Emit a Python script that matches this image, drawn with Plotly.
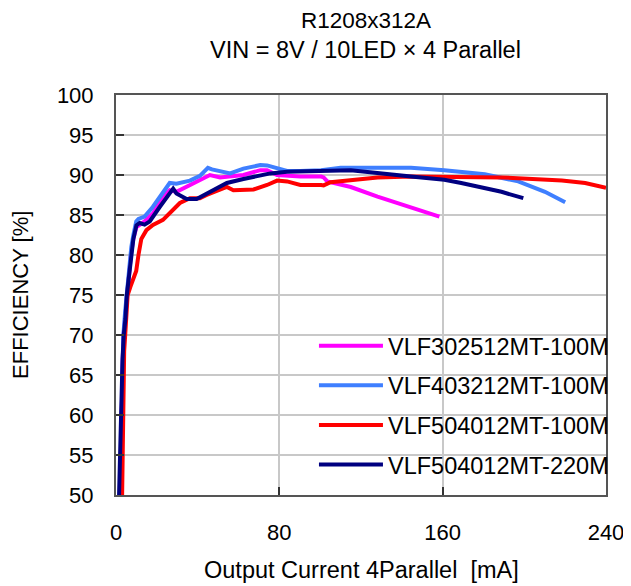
import plotly.graph_objects as go

names = ["VLF302512MT-100M", "VLF403212MT-100M", "VLF504012MT-100M", "VLF504012MT-220M"]
colors = ["#FF00FF", "#3F7FFF", "#FF0000", "#000080"]

# VLF302512MT-100M (magenta)
x_mag = [2.2, 2.7, 3.2, 3.7, 4.7, 5.5, 6.5, 7.3, 8.5, 10, 14, 18.1, 23, 26.3, 29.6, 36.2, 41.1, 46, 51,
         62.4, 70.7, 74, 78.9, 90.3, 100.5, 101.7, 103.5, 115, 128.1, 144.5, 158.4]
y_mag = [50, 60, 66, 70, 73, 75, 78, 80, 82, 83.5, 84.2, 85.2, 87.3, 88.1, 87.9, 88.75, 89.4, 90, 89.7,
         90, 90.6, 90.6, 90, 89.8, 89.8, 89.7, 89.2, 88.5, 87.3, 86, 84.8]

# VLF403212MT-100M (blue)
x_blu = [2.0, 2.5, 2.8, 3.2, 3.6, 4.5, 5.3, 6.0, 7.0, 7.5, 8.5, 9.9, 11, 14, 18, 22.9, 26.3, 29.6, 32,
         36.2, 41.1, 45, 47, 49.3, 52.4, 55.9, 62.4, 67.4, 70.7, 74, 78.9, 83.8, 90.3, 100.5, 110,
         144.5, 160.8, 169.1, 180.6, 197, 210.1, 220]
y_blu = [50, 58, 63, 66, 70, 73, 75, 77.5, 80, 81, 82.5, 84.2, 84.5, 84.8, 86, 87.9, 89, 88.9, 89,
         89.3, 89.9, 90.9, 90.7, 90.6, 90.4, 90.2, 90.8, 91.1, 91.25, 91.2, 90.8, 90.5, 90.5, 90.6, 90.9,
         90.9, 90.6, 90.4, 90.1, 89.2, 87.9, 86.6]

# VLF504012MT-100M (red)
x_red = [3.0, 3.2, 3.4, 3.6, 4.0, 4.5, 5.0, 5.7, 7.0, 8.3, 9.9, 11, 12.4, 14.9, 18.1, 23, 28, 31.3,
         36.2, 41.1, 44.4, 51, 54.3, 57.5, 67.4, 74, 78.9, 83.8, 90.3, 100.5, 101.7, 105.1, 128.1,
         144.5, 169.1, 188.8, 218.4, 229.8, 240]
y_red = [50, 55, 60, 65, 68, 70, 72, 75, 76, 77, 78, 80, 82, 83.1, 83.75, 84.4, 85.6, 86.5,
         87.1, 87.1, 87.5, 88.1, 88.5, 88.1, 88.2, 88.75, 89.3, 89.2, 88.75, 88.75, 88.7, 89.1, 89.7,
         89.8, 89.8, 89.7, 89.3, 89.0, 88.4]

# VLF504012MT-220M (navy)
x_nav = [1.5, 2.2, 2.7, 3.2, 3.8, 4.6, 5.3, 6.2, 7.2, 8.5, 10, 11.6, 14, 16.5, 21.4, 27.2, 28, 29.6,
         34.6, 39.5, 44.4, 46, 51, 54.3, 62.4, 72.3, 75.6, 83.8, 100.5, 115, 144.5, 160.8, 169.1,
         188.8, 199.5]
y_nav = [50, 58, 64, 67, 70, 72, 75, 77, 80, 82, 83.7, 84, 83.8, 84.2, 86, 88.2, 88.3, 87.7,
         87, 87, 87.7, 87.9, 88.5, 89, 89.5, 90, 90.2, 90.4, 90.5, 90.6, 89.8, 89.4, 89.0,
         87.9, 87.1]

series_x = [x_mag, x_blu, x_red, x_nav]
series_y = [y_mag, y_blu, y_red, y_nav]

x_ticks = [0, 80, 160, 240]
y_ticks = [50, 55, 60, 65, 70, 75, 80, 85, 90, 95, 100]

title_line1 = "R1208x312A"
title_line2 = "VIN = 8V / 10LED × 4 Parallel"
x_title = "Output Current 4Parallel  [mA]"
y_title = "EFFICIENCY [%]"

FONT = "Arial, Liberation Sans, sans-serif"

fig = go.Figure()
for i in range(4):
    fig.add_trace(go.Scatter(
        x=series_x[i], y=series_y[i], mode="lines", name=names[i],
        line=dict(color=colors[i], width=4), legendgroup=f"g{i}"))

# white area behind the legend (hides gridlines there, as in the reference)
fig.add_shape(type="rect", xref="paper", yref="paper", x0=0.365, x1=1.0, y0=0.0, y1=0.425,
              fillcolor="white", line=dict(width=0), layer="between")

# the page body adds an 8px margin, so the figure is 8px smaller than the window
fig.update_layout(
    width=623, height=578,
    margin=dict(l=108, r=25, t=87, b=91, autoexpand=False),
    paper_bgcolor="white", plot_bgcolor="white",
    font=dict(family=FONT, color="black"),
    showlegend=True,
    legend=dict(x=0.404, y=0.02, xanchor="left", yanchor="bottom",
                bgcolor="rgba(0,0,0,0)", borderwidth=0,
                font=dict(size=23.5, family=FONT),
                tracegroupgap=6, itemwidth=64,
                traceorder="grouped"),
    annotations=[
        dict(text=title_line1, xref="paper", yref="paper", x=0.51, y=1.1875,
             xanchor="center", yanchor="middle", showarrow=False, borderpad=0,
             font=dict(size=22.5, family=FONT)),
        dict(text=title_line2, xref="paper", yref="paper", x=0.51, y=1.1125,
             xanchor="center", yanchor="middle", showarrow=False, borderpad=0,
             font=dict(size=23.5, family=FONT)),
        dict(text=x_title, xref="paper", yref="paper", x=0.5, y=-0.1875,
             xanchor="center", yanchor="middle", showarrow=False,
             font=dict(size=23.5, family=FONT)),
        dict(text=y_title, xref="paper", yref="paper", x=-0.196, y=0.5,
             xanchor="center", yanchor="middle", showarrow=False, textangle=-90,
             font=dict(size=22, family=FONT)),
    ],
)

fig.update_xaxes(
    range=[0, 240], tickvals=x_ticks, ticktext=[str(v) for v in x_ticks],
    showgrid=True, gridcolor="#C8C8C8", gridwidth=1.5,
    showline=True, linecolor="#555555", linewidth=2, mirror=True,
    ticks="inside", ticklen=8, tickwidth=2, tickcolor="#333333",
    tickfont=dict(size=22, family=FONT), zeroline=False, ticklabelstandoff=17,
    automargin=False,
)
fig.update_yaxes(
    range=[50, 100], tickvals=y_ticks, ticktext=[str(v) for v in y_ticks],
    showgrid=True, gridcolor="#C8C8C8", gridwidth=1.5,
    showline=True, linecolor="#555555", linewidth=2, mirror=True,
    ticks="inside", ticklen=8, tickwidth=2, tickcolor="#333333",
    tickfont=dict(size=22, family=FONT), zeroline=False, ticklabelstandoff=16,
    automargin=False,
)

fig.write_html("out.html")
